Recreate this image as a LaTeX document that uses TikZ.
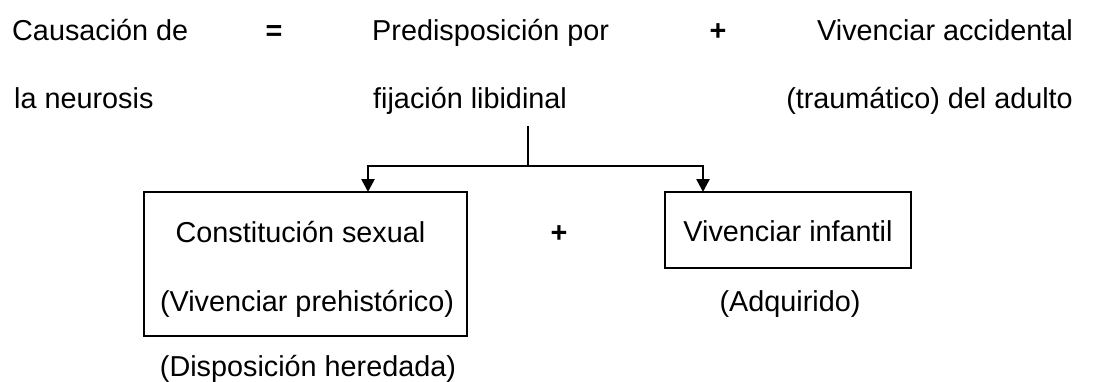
\documentclass[tikz,border=0pt]{standalone}
\usepackage{fontspec}
\setmainfont{Liberation Sans}
\usetikzlibrary{arrows.meta}
\begin{document}
\begin{tikzpicture}[x=1pt,y=-1pt,
  lbl/.style={anchor=base,inner sep=0pt,font=\fontsize{28.8}{34}\selectfont},
  op/.style={anchor=base,inner sep=0pt,font=\fontsize{28.8}{34}\selectfont\bfseries},
  box/.style={draw,line width=1.6pt,inner sep=0pt},
  conn/.style={line width=2.6pt},
  arr/.style={line width=2.6pt,-{Triangle[length=13pt,width=13pt]}}]
\useasboundingbox (0,0) rectangle (1096,381);
% top rows
\node[lbl,anchor=base west] (caus1) at (12,40) {Causación de};
\node[lbl,anchor=base west] (caus2) at (14,108) {la neurosis};
\node[op] (eq) at (274,40) {=};
\node[lbl,anchor=base west] (pred1) at (372,40) {Predisposición por};
\node[lbl,anchor=base west] (pred2) at (373,108) {fijación libidinal};
\node[op] (plus1) at (718,40) {+};
\node[lbl,anchor=base east] (viv1) at (1073,40) {Vivenciar accidental};
\node[lbl,anchor=base east] (viv2) at (1073,108) {(traumático) del adulto};
% boxes
\node[box,minimum width=323pt,minimum height=144pt] (lbox) at (305.5,264) {};
\node[box,minimum width=246pt,minimum height=76pt] (rbox) at (788,230) {};
\node[lbl] (cs) at (300.5,242) {Constitución sexual};
\node[lbl] (vp) at (307,311) {(Vivenciar prehistórico)};
\node[lbl] (dh) at (308,376) {(Disposición heredada)};
\node[op] (plus2) at (559,242) {+};
\node[lbl] (vi) at (788,241) {Vivenciar infantil};
\node[lbl] (adq) at (790,311) {(Adquirido)};
% connectors
\coordinate (stem) at (528,126);
\coordinate (split) at (528,166);
\coordinate (lin) at (368,192);
\coordinate (rin) at (703,192);
\draw[conn] (stem) -- (split);
\draw[arr] (split) -| (lin);
\draw[arr] (split) -| (rin);
\end{tikzpicture}
\end{document}
